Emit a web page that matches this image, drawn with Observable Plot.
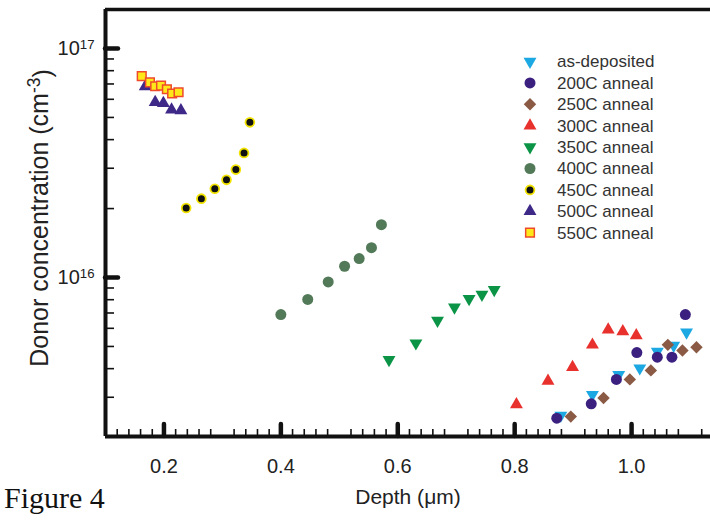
<!DOCTYPE html>
<html>
<head>
<meta charset="utf-8">
<script src="https://cdn.jsdelivr.net/npm/d3@7"></script>
<script src="https://cdn.jsdelivr.net/npm/@observablehq/plot@0.6"></script>
<style>
  html, body { margin: 0; padding: 0; background: #fff; }
  #chart { position: relative; width: 710px; height: 521px; }
</style>
</head>
<body>
<div id="chart"></div>
<script>
// ---- data (depth in µm, donor concentration in cm^-3) ----
const seriesLabels = ["as-deposited", "200C anneal", "250C anneal", "300C anneal", "350C anneal",
                      "400C anneal", "450C anneal", "500C anneal", "550C anneal"];

const asDepDepth = [0.879, 0.933, 0.978, 1.014, 1.044, 1.072, 1.094];
const asDepConc  = [2.50e15, 3.08e15, 3.76e15, 4.02e15, 4.75e15, 5.05e15, 5.77e15];
const a200Depth  = [0.872, 0.931, 0.974, 1.009, 1.044, 1.069, 1.092];
const a200Conc   = [2.43e15, 2.81e15, 3.59e15, 4.70e15, 4.49e15, 4.49e15, 6.89e15];
const a250Depth  = [0.896, 0.952, 0.997, 1.033, 1.062, 1.087, 1.111];
const a250Conc   = [2.47e15, 2.98e15, 3.59e15, 3.93e15, 5.08e15, 4.80e15, 4.96e15];
const a300Depth  = [0.803, 0.857, 0.899, 0.933, 0.960, 0.985, 1.008];
const a300Conc   = [2.79e15, 3.53e15, 4.06e15, 5.08e15, 5.91e15, 5.81e15, 5.58e15];
const a350Depth  = [0.585, 0.631, 0.668, 0.697, 0.722, 0.744, 0.765];
const a350Conc   = [4.37e15, 5.17e15, 6.49e15, 7.42e15, 8.07e15, 8.43e15, 8.84e15];
const a400Depth  = [0.400, 0.446, 0.481, 0.509, 0.534, 0.555, 0.572];
const a400Conc   = [6.89e15, 8.02e15, 9.57e15, 1.12e16, 1.21e16, 1.35e16, 1.70e16];
const a450Depth  = [0.238, 0.264, 0.287, 0.307, 0.323, 0.337, 0.347];
const a450Conc   = [2.01e16, 2.21e16, 2.44e16, 2.67e16, 2.96e16, 3.50e16, 4.76e16];
const a500Depth  = [0.168, 0.185, 0.199, 0.213, 0.229];
const a500Conc   = [6.83e16, 5.83e16, 5.77e16, 5.40e16, 5.36e16];
const a550Depth  = [0.162, 0.176, 0.185, 0.195, 0.205, 0.214, 0.225];
const a550Conc   = [7.57e16, 7.11e16, 6.84e16, 6.89e16, 6.64e16, 6.36e16, 6.44e16];

const xMajorTicks = [0.2, 0.4, 0.6, 0.8, 1.0];
const xMinorTicks = [0.12,0.14,0.16,0.18,0.22,0.24,0.26,0.28,0.32,0.34,0.36,0.38,0.42,0.44,0.46,0.48,
                     0.52,0.54,0.56,0.58,0.62,0.64,0.66,0.68,0.72,0.74,0.76,0.78,0.82,0.84,0.86,0.88,
                     0.92,0.94,0.96,0.98,1.02,1.04,1.06,1.08,1.12];
const yMajorTicks = [1e16, 1e17];
const yMinorTicks = [3e15,4e15,5e15,6e15,7e15,8e15,9e15,2e16,3e16,4e16,5e16,6e16,7e16,8e16,9e16];

const xDomain = [0.1, 1.135];
const yDomain = [2.022e15, 1.48e17];

// ---- styles per series ----
const styles = [
  {symbol: "triangle", rotate: 180, fill: "#1ca8e2", r: 4.8},
  {symbol: "circle",   fill: "#3b2080", r: 5.5},
  {symbol: "diamond2", fill: "#8b5a45", r: 5.6},
  {symbol: "triangle", fill: "#e8302d", r: 4.8},
  {symbol: "triangle", rotate: 180, fill: "#0b9446", r: 4.8},
  {symbol: "circle",   fill: "#527a58", r: 5.5},
  {symbol: "circle",   fill: "#111111", stroke: "#f2e400", strokeWidth: 1.8, r: 4.4},
  {symbol: "triangle", fill: "#3e2888", r: 4.8},
  {symbol: "square",   fill: "#ffe81a", stroke: "#ee4a2b", strokeWidth: 1.5, r: 4.9}
];
const seriesData = [
  [asDepDepth, asDepConc], [a200Depth, a200Conc], [a250Depth, a250Conc],
  [a300Depth, a300Conc], [a350Depth, a350Conc], [a400Depth, a400Conc],
  [a450Depth, a450Conc], [a500Depth, a500Conc], [a550Depth, a550Conc]
];

const dotMarks = seriesData.map(([xs, ys], i) => {
  const s = styles[i];
  const rows = xs.map((x, j) => ({depth: x, conc: ys[j]}));
  return Plot.dot(rows, {
    x: "depth", y: "conc", symbol: () => s.symbol, r: s.r,
    fill: s.fill, stroke: s.stroke || "none", strokeWidth: s.strokeWidth || 0,
    rotate: s.rotate || 0
  });
});

const W = 710, H = 521, mL = 105, mR = 0, mT = 9, mB = 85;
const frameW = W - mL - mR, frameH = H - mT - mB;

const plot = Plot.plot({
  width: W, height: H,
  marginLeft: mL, marginRight: mR, marginTop: mT, marginBottom: mB,
  style: {fontFamily: "'Liberation Sans', Arial, sans-serif", fontSize: "20px", color: "#222", background: "#fff"},
  x: {domain: xDomain},
  y: {type: "log", domain: yDomain},
  symbol: {type: "identity"},
  marks: [
    // tick marks (inward)
    Plot.tickX(xMinorTicks, {x: d => d, stroke: "#111", strokeWidth: 1.6, insetTop: frameH - 7}),
    Plot.tickX(xMajorTicks, {x: d => d, stroke: "#111", strokeWidth: 4.5, insetTop: frameH - 12, strokeLinecap: "round"}),
    Plot.tickY(yMinorTicks, {y: d => d, stroke: "#111", strokeWidth: 1.6, insetRight: frameW - 9}),
    Plot.tickY(yMajorTicks, {y: d => d, stroke: "#111", strokeWidth: 4.5, insetRight: frameW - 13, strokeLinecap: "round"}),
    // axis lines
    Plot.ruleX([xDomain[0]], {stroke: "#111", strokeWidth: 4}),
    Plot.ruleY([yDomain[0]], {stroke: "#111", strokeWidth: 4}),
    Plot.ruleY([yDomain[1]], {stroke: "#111", strokeWidth: 3.5}),
    // axis labels
    Plot.axisX({ticks: xMajorTicks, tickSize: 0, tickPadding: 22, tickFormat: d3.format(".1f"), label: null}),
    Plot.axisY({ticks: yMajorTicks, tickSize: 0, tickPadding: 11, tickFormat: d => "10" + Math.round(Math.log10(d)), label: null}),
    ...dotMarks
  ]
});

const ns = "http://www.w3.org/2000/svg";
// superscripts on y tick labels
plot.querySelectorAll('g[aria-label="y-axis tick label"] text').forEach(t => {
  const s = t.textContent;
  t.textContent = "10";
  const ts = document.createElementNS(ns, "tspan");
  ts.setAttribute("dy", "-0.42em");
  ts.setAttribute("font-size", "0.66em");
  ts.textContent = s.slice(2);
  t.appendChild(ts);
});

const svg = d3.select(plot);
const txtFont = "'Liberation Sans', Arial, sans-serif";

// y-axis title
const yt = svg.append("text")
  .attr("transform", "translate(48,218) rotate(-90)")
  .attr("text-anchor", "middle")
  .attr("font-family", txtFont).attr("font-size", 25).attr("fill", "#222");
yt.append("tspan").text("Donor concentration (cm");
yt.append("tspan").attr("dy", "-0.45em").attr("font-size", "0.7em").text("-3");
yt.append("tspan").attr("dy", "0.45em").text(")");

// x-axis title
const xt = svg.append("text")
  .attr("x", 408).attr("y", 504)
  .attr("text-anchor", "middle")
  .attr("font-family", txtFont).attr("font-size", 21).attr("fill", "#222");
xt.append("tspan").text("Depth (");
xt.append("tspan").text("\u03BC");
xt.append("tspan").text("m)");

// Figure caption
svg.append("text")
  .attr("x", 4).attr("y", 508)
  .attr("text-anchor", "start")
  .attr("font-family", "'Liberation Serif', 'Times New Roman', serif")
  .attr("font-size", 30).attr("fill", "#111")
  .text("Figure 4");

// legend
const symMap = {circle: d3.symbolCircle, triangle: d3.symbolTriangle, diamond2: d3.symbolDiamond2, square: d3.symbolSquare};
const lg = svg.append("g").attr("font-family", txtFont).attr("font-size", 17).attr("fill", "#333").attr("text-anchor", "start");
seriesLabels.forEach((lab, i) => {
  const s = styles[i];
  const yy = 61.5 + i * 21.4;
  lg.append("path")
    .attr("d", d3.symbol(symMap[s.symbol], Math.PI * s.r * s.r)())
    .attr("transform", `translate(530,${yy}) rotate(${s.rotate || 0})`)
    .attr("fill", s.fill).attr("stroke", s.stroke || "none").attr("stroke-width", s.strokeWidth || 0);
  lg.append("text").attr("x", 557).attr("y", yy).attr("dy", "0.35em").text(lab);
});

document.getElementById("chart").appendChild(plot);
</script>
</body>
</html>
